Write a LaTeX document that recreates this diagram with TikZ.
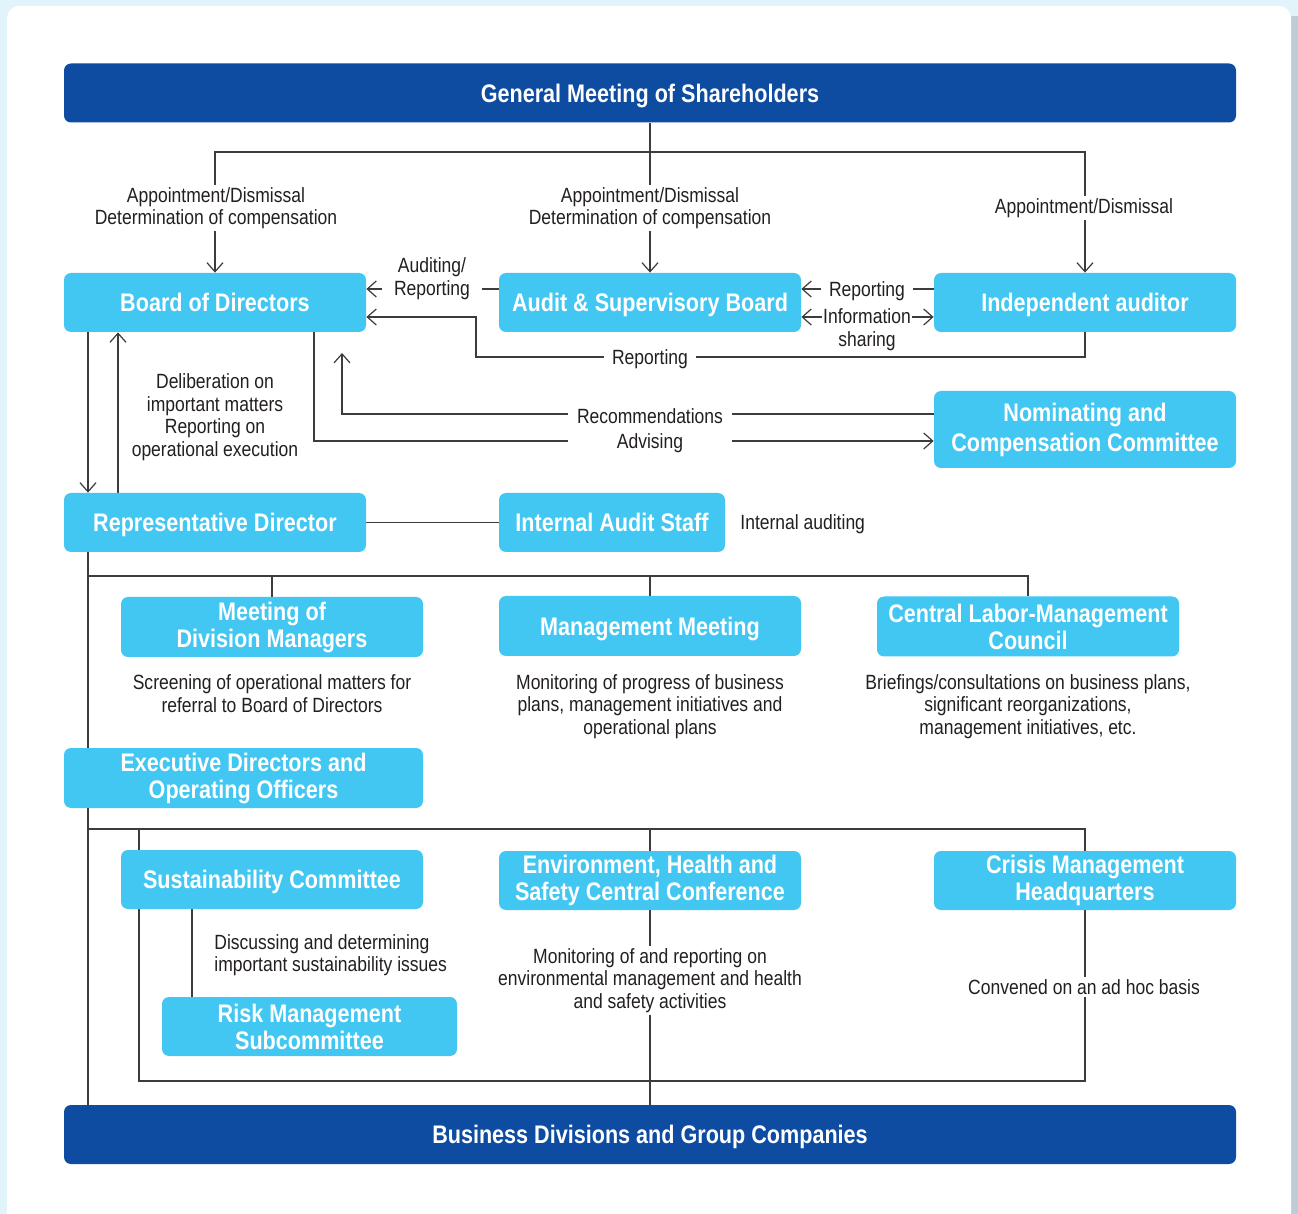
\documentclass[tikz,border=0pt]{standalone}
\usepackage{fontspec}
\setmainfont[FakeStretch=0.85]{Liberation Sans}
\usetikzlibrary{arrows.meta,backgrounds}
\definecolor{dkblue}{RGB}{13,76,160}
\definecolor{ltblue}{RGB}{66,199,243}
\definecolor{bgblue}{RGB}{225,243,251}
\definecolor{lncol}{RGB}{60,60,60}
\definecolor{txt}{RGB}{35,31,32}
\definecolor{shadowcol}{RGB}{190,205,213}
\begin{document}
\begin{tikzpicture}[x=0.5pt,y=-0.5pt,
  box/.style={fill=ltblue, text=white, rounded corners=3.5pt, inner sep=0pt, align=center,
    font=\bfseries\fontsize{12.7}{13.5}\selectfont, minimum height=29.5pt, minimum width=151pt},
  one/.style={text height=9.2pt, text depth=0pt},
  dbox/.style={box, one, fill=dkblue, minimum width=586pt},
  lbl/.style={text=txt, font=\fontsize{10.3}{11.3}\selectfont, align=center, inner sep=1pt, yshift=-1pt},
  wl/.style={lbl, fill=white},
  conn/.style={draw=lncol, line width=0.6pt},
  arr/.style={conn, -{Straight Barb[length=4.5pt,width=8pt]}},
  darr/.style={conn, {Straight Barb[length=4.5pt,width=8pt]}-{Straight Barb[length=4.5pt,width=8pt]}}
  ]
\useasboundingbox (0,0) rectangle (1298,1214);

% boxes
\node[dbox] (gm) at (650,93) {General Meeting of Shareholders};
\node[box, one] (bod) at (215,302.5) {Board of Directors};
\node[box, one] (asb) at (650,302.5) {Audit \& Supervisory Board};
\node[box, one] (ia) at (1085,302.5) {Independent auditor};
\node[box, minimum height=38.5pt, font=\bfseries\fontsize{12.7}{15}\selectfont] (ncc) at (1085,429.5) {Nominating and\\Compensation Committee};
\node[box, one] (rd) at (215,522.5) {Representative Director};
\node[box, one, minimum width=113pt] (ias) at (612,522.5) {Internal Audit Staff};
\node[box, minimum height=30pt] (mdm) at (272,627) {Meeting of\\Division Managers};
\node[box, one, minimum height=30pt] (mm) at (650,626) {Management Meeting};
\node[box, minimum height=30pt] (clmc) at (1028,626.5) {Central Labor-Management\\Council};
\node[box, minimum height=30pt, minimum width=179.5pt] (edoo) at (243.5,778) {Executive Directors and\\Operating Officers};
\node[box, one] (sc) at (272,879.5) {Sustainability Committee};
\node[box] (esc) at (650,880.5) {Environment, Health and\\Safety Central Conference};
\node[box] (cmh) at (1085,880.5) {Crisis Management\\Headquarters};
\node[box, minimum width=147.5pt] (rms) at (309.5,1026.5) {Risk Management\\Subcommittee};
\node[dbox] (bdgc) at (650,1134.5) {Business Divisions and Group Companies};

% helper coordinates
\coordinate (j1) at (650,152);
\coordinate (x88) at (88,0);
\coordinate (x118) at (118,0);
\coordinate (x139) at (139,0);
\coordinate (x192) at (192,0);
\coordinate (x314) at (314,0);
\coordinate (r289) at (0,289);
\coordinate (r317) at (0,317);
\coordinate (r414) at (0,414);
\coordinate (r441) at (0,441);
\coordinate (r576) at (0,576);
\coordinate (r829) at (0,829);
\coordinate (r1081) at (0,1081);
\coordinate (k1) at (476,357);
\coordinate (rec) at (342,353);

\begin{scope}[on background layer]
  \begin{scope}
    \clip (0,0) rectangle (1298,1214);
    \fill[bgblue] (0,0) rectangle (1298,1214);
    \fill[shadowcol] (1291,16) rectangle (1298,1230);
    \fill[white, rounded corners=6pt] (7,6) rectangle (1291,1240);
  \end{scope}
  % top distribution
  \draw[conn] (gm.south) -- (j1);
  \draw[arr] (j1) -| (bod.north);
  \draw[arr] (j1) -- (asb.north);
  \draw[arr] (j1) -| (ia.north);
  % audit relations
  \draw[arr] (asb.west |- r289) -- (bod.east |- r289);
  \draw[arr] (ia.west |- r289) -- (asb.east |- r289);
  \draw[darr] (asb.east |- r317) -- (ia.west |- r317);
  \draw[arr] (ia.south) |- (k1) |- (bod.east |- r317);
  % nominating committee
  \draw[arr] (bod.south -| x314) |- (ncc.west |- r441);
  \draw[arr] (ncc.west |- r414) -| (rec);
  % board <-> representative director
  \draw[arr] (bod.south -| x88) -- (rd.north -| x88);
  \draw[arr] (rd.north -| x118) -- (bod.south -| x118);
  \draw[conn] (rd.east) -- (ias.west);
  % spine
  \draw[conn] (rd.south -| x88) -- (bdgc.north -| x88);
  \draw[conn] (x88 |- r576) -| (clmc.north);
  \draw[conn] (mdm.north) -- (mdm.north |- r576);
  \draw[conn] (mm.north) -- (mm.north |- r576);
  \draw[conn] (x88 |- r829) -| (cmh.north);
  \draw[conn] (esc.north) -- (esc.north |- r829);
  \draw[conn] (x139 |- r829) -- (x139 |- r1081) -| (cmh.south);
  \draw[conn] (esc.south) -- (bdgc.north);
  \draw[conn] (sc.south -| x192) -- (rms.north -| x192);
\end{scope}

% labels
\node[wl] (l1) at (216,206) {Appointment/Dismissal\\Determination of compensation};
\node[wl] (l2) at (650,206) {Appointment/Dismissal\\Determination of compensation};
\node[wl] (l3) at (1084,206) {Appointment/Dismissal};
\node[wl, inner xsep=6pt] (l4) at (432,276.5) {Auditing/\\Reporting};
\node[wl, inner xsep=4pt] (l5) at (867,289) {Reporting};
\node[wl, inner xsep=0.5pt] (l6) at (867,327.5) {Information\\sharing};
\node[wl, inner xsep=4pt] (l7) at (650,357) {Reporting};
\node[wl, minimum width=82pt] (l8) at (650,414) {Recommendations};
\node[wl, minimum width=82pt] (l9) at (650,441) {Advising};
\node[lbl] (l10) at (215,415) {Deliberation on\\important matters\\Reporting on\\operational execution};
\node[lbl, anchor=west] (l11) at (738,522) {Internal auditing};
\node[lbl] (l12) at (272,691.5) {Screening of operational matters for\\referral to Board of Directors};
\node[lbl] (l13) at (650,704.5) {Monitoring of progress of business\\plans, management initiatives and\\operational plans};
\node[lbl] (l14) at (1028,704.5) {Briefings/consultations on business plans,\\significant reorganizations,\\management initiatives, etc.};
\node[lbl, anchor=west, align=left] (l15) at (212,953) {Discussing and determining\\important sustainability issues};
\node[wl] (l16) at (650,978.5) {Monitoring of and reporting on\\environmental management and health\\and safety activities};
\node[wl] (l17) at (1084,985) {Convened on an ad hoc basis};
\end{tikzpicture}
\end{document}
